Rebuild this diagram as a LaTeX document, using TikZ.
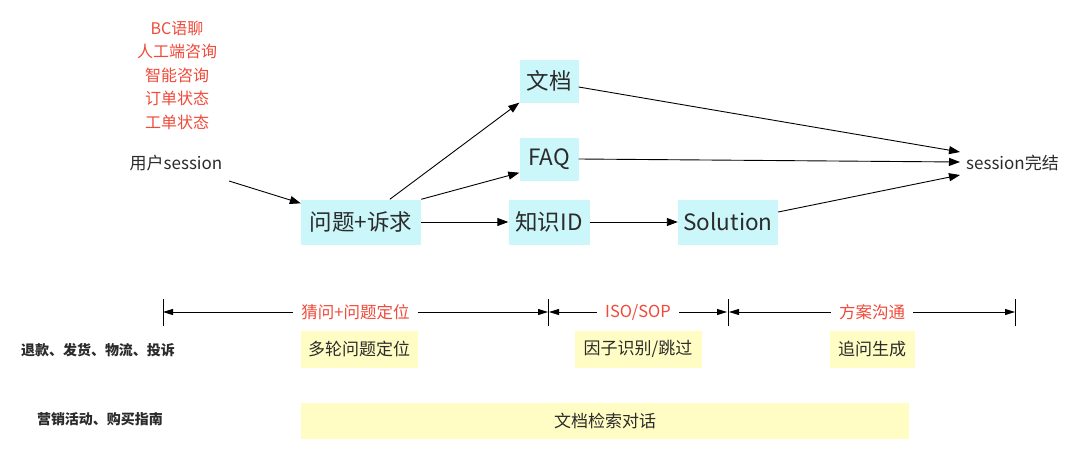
\documentclass[tikz,border=0pt]{standalone}
\usepackage{fontspec}
\setmainfont{Noto Sans CJK SC}
\usetikzlibrary{arrows.meta}
\definecolor{boxcyan}{HTML}{CCF7FA}
\definecolor{boxyellow}{HTML}{FFFDC4}
\definecolor{redtxt}{HTML}{F04A3A}
\definecolor{darktxt}{HTML}{2B2B2B}
\tikzset{
  arr/.style={-{Triangle[length=11pt,width=8pt]}, line width=0.9pt, draw=black},
  cbox/.style={fill=boxcyan, text=darktxt, minimum height=45pt, inner sep=0pt, font=\fontsize{22.5}{26}\selectfont},
  ybox/.style={fill=boxyellow, text=darktxt, minimum height=37pt, inner sep=0pt, font=\fontsize{17}{20}\selectfont},
  redlbl/.style={text=redtxt, font=\fontsize{16}{19}\selectfont, inner sep=0pt},
  plain/.style={text=darktxt, font=\fontsize{17}{20}\selectfont, inner sep=0pt},
  leftlbl/.style={text=darktxt, font=\fontsize{14}{17}\bfseries\selectfont, inner sep=0pt},
  tick/.style={line width=1pt, draw=black},
  dim/.style={{Triangle[length=10pt,width=6pt]}-{Triangle[length=10pt,width=6pt]}, line width=0.9pt},
  dimlbl/.style={fill=white, text=redtxt, font=\fontsize{16.5}{19}\selectfont, inner xsep=8pt, inner ysep=2pt}
}
\begin{document}
\begin{tikzpicture}[x=1pt,y=-1pt]
\useasboundingbox (0,0) rectangle (1080,463);
\fill[white] (0,0) rectangle (1080,463);
% red list
\node[redlbl] (r1) at (177,28) {BC语聊};
\node[redlbl] (r2) at (177,51) {人工端咨询};
\node[redlbl] (r3) at (177,75) {智能咨询};
\node[redlbl] (r4) at (177,98) {订单状态};
\node[redlbl] (r5) at (177,122) {工单状态};
\node[plain] (user) at (176,163) {用户session};
% boxes
\node[cbox, minimum width=120pt] (q) at (361,222) {问题+诉求};
\node[cbox, minimum width=59pt, minimum height=43pt] (doc) at (549,81) {文档};
\node[cbox, minimum width=59pt, minimum height=43pt] (faq) at (549,159) {FAQ};
\node[cbox, minimum width=81pt] (kid) at (549,222) {知识ID};
\node[cbox, minimum width=100pt] (sol) at (728,222) {Solution};
\node[plain, anchor=west] (end) at (966,163) {session完结};
\coordinate (e1) at (960,152);
\coordinate (e2) at (960,162);
\coordinate (e3) at (960,175);
\coordinate (u0) at (229,181);
% arrows
\draw[arr] (u0) -- ([yshift=-4pt]q.north west);
\draw[arr] ([xshift=89pt]q.north west) -- (doc.south west);
\draw[arr] (q.north east) -- ([yshift=8pt]faq.south west);
\draw[arr] (q.east) -- (kid.west);
\draw[arr] (kid.east) -- (sol.west);
\draw[arr] ([yshift=-6pt]doc.east) -- (e1);
\draw[arr] (faq.east) -- (e2);
\draw[arr] ([yshift=10pt]sol.east) -- (e3);
% dimension lines
\coordinate (t1) at (163,312);
\coordinate (t2) at (548,312);
\coordinate (t3) at (728,312);
\coordinate (t4) at (1015,312);
\foreach \c in {t1,t2,t3,t4} \draw[tick] ([yshift=-14pt]\c) -- ([yshift=13pt]\c);
\draw[dim] (t1) -- (t2) node[dimlbl, pos=0.5] (l1) {猜问+问题定位};
\draw[dim] ([xshift=1pt]t2) -- ([xshift=-1pt]t3) node[dimlbl, pos=0.5] (l2) {ISO/SOP};
\draw[dim] ([xshift=1pt]t3) -- (t4) node[dimlbl, pos=0.5] (l3) {方案沟通};
% yellow boxes
\node[ybox, minimum width=117pt] (y1) at (359,349) {多轮问题定位};
\node[ybox, minimum width=127pt] (y2) at (638,349) {因子识别/跳过};
\node[ybox, minimum width=85pt] (y3) at (872,349) {追问生成};
\node[ybox, minimum width=608pt, minimum height=36pt] (y4) at (605,421) {文档检索对话};
% left labels
\node[leftlbl] (c1) at (98,350) {退款、发货、物流、投诉};
\node[leftlbl] (c2) at (100,419) {营销活动、购买指南};
\end{tikzpicture}
\end{document}
